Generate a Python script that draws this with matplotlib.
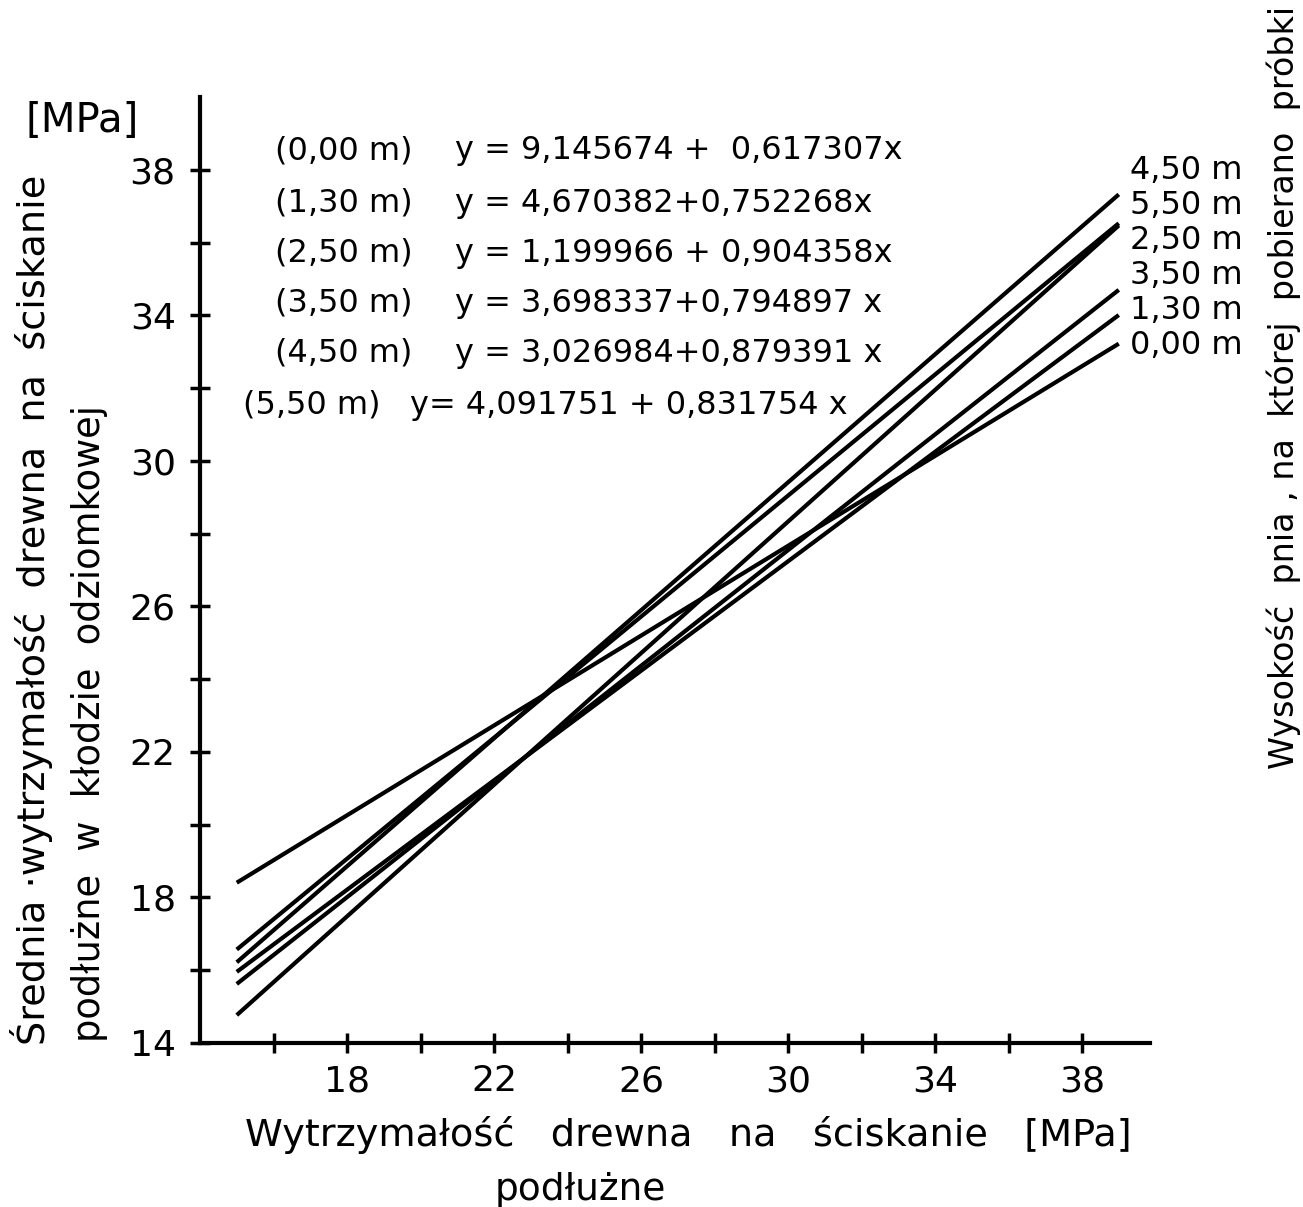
import matplotlib
matplotlib.use("Agg")
import matplotlib.pyplot as plt
import numpy as np

plt.rcParams['font.family'] = ['DejaVu Sans']

# Data: regression lines printed in the chart
heights = ["0,00 m", "1,30 m", "2,50 m", "3,50 m", "4,50 m", "5,50 m"]
intercepts = [9.145674, 4.670382, 1.199966, 3.698337, 3.026984, 4.091751]
slopes = [0.617307, 0.752268, 0.904358, 0.794897, 0.879391, 0.831754]
eq_texts = ["y = 9,145674 +  0,617307x",
            "y = 4,670382+0,752268x",
            "y = 1,199966 + 0,904358x",
            "y = 3,698337+0,794897 x",
            "y = 3,026984+0,879391 x",
            "y= 4,091751 + 0,831754 x"]
x_range = [15.0, 39.0]
right_order = ["4,50 m", "5,50 m", "2,50 m", "3,50 m", "1,30 m", "0,00 m"]
xticks_major = [18, 22, 26, 30, 34, 38]
yticks_major = [14, 18, 22, 26, 30, 34, 38]
minor_ticks = [16, 20, 24, 28, 32, 36]

fig = plt.figure(figsize=(13.03, 12.07), dpi=100)
ax = fig.add_axes([0.1535, 0.1359, 0.7291, 0.7837])

xs = np.array(x_range)
for a, b in zip(intercepts, slopes):
    ax.plot(xs, a + b * xs, color='black', lw=3.0, solid_capstyle='butt')

ax.set_xlim(14, 39.85)
ax.set_ylim(14, 40)
for s in ['top', 'right']:
    ax.spines[s].set_visible(False)
for s in ['left', 'bottom']:
    ax.spines[s].set_linewidth(3.0)

ax.set_xticks(xticks_major)
ax.set_yticks(yticks_major)
ax.xaxis.set_minor_locator(plt.FixedLocator(minor_ticks))
ax.yaxis.set_minor_locator(plt.FixedLocator(minor_ticks))
ax.tick_params(which='both', direction='inout', length=15, width=2.5, labelsize=26)
ax.tick_params(axis='x', which='both', pad=8)
ax.tick_params(axis='y', which='both', pad=10)

# equation texts
row_y = [38.53, 37.08, 35.70, 34.33, 32.96, 31.53]
lab_x = [16.04, 16.04, 16.04, 16.04, 16.04, 15.17]
eq_x = [20.94, 20.94, 20.94, 20.94, 20.94, 19.71]
for h, t, yy, lx, ex in zip(heights, eq_texts, row_y, lab_x, eq_x):
    ax.text(lx, yy, "(" + h + ")", fontsize=23, va='center', ha='left')
    ax.text(ex, yy, t, fontsize=23, va='center', ha='left')

# right-end labels
right_y = [37.98, 37.02, 36.06, 35.10, 34.14, 33.18]
for lbl, yy in zip(right_order, right_y):
    ax.text(39.31, yy, lbl, fontsize=23, va='center', ha='left', clip_on=False)

fig.text(0.063, 0.90, "[MPa]", fontsize=29, ha='center', va='center')
fig.text(0.024, 0.134, "Średnia ·wytrzymałość  drewna  na  ściskanie",
         rotation=90, fontsize=27.5, ha='center', va='bottom')
fig.text(0.069, 0.137, "podłużne  w  kłodzie  odziomkowej",
         rotation=90, fontsize=26.5, ha='center', va='bottom')
fig.text(0.985, 0.679, "Wysokość  pnia , na  której  pobierano  próbki",
         rotation=90, fontsize=24, ha='center', va='center')
fig.text(0.528, 0.06, "Wytrzymałość   drewna   na   ściskanie   [MPa]",
         fontsize=27.5, ha='center', va='center')
fig.text(0.445, 0.014, "podłużne", fontsize=27, ha='center', va='center')

fig.savefig("out.png", dpi=100, facecolor='white')
